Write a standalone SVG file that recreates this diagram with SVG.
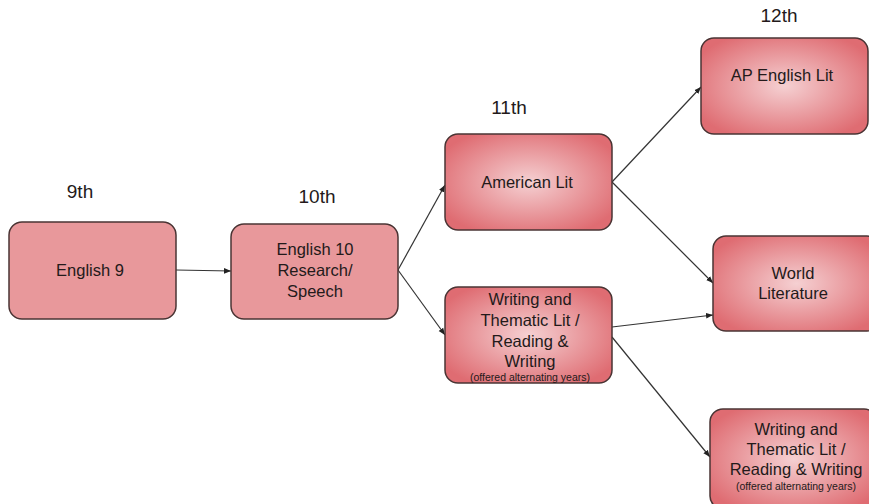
<svg xmlns="http://www.w3.org/2000/svg" width="869" height="504" viewBox="0 0 869 504">
<style>
.flat{fill:#e8989b;stroke:#4a3434;stroke-width:1.5}
.grad{fill:url(#rg);stroke:#4a3434;stroke-width:1.5}
text{font-family:"Liberation Sans",Arial,sans-serif;fill:#231a1a;text-anchor:middle}
.t{font-size:16.5px}
.s{font-size:10.5px}
.lab{font-size:19px}
.c{stroke:#333;stroke-width:1.2;fill:none;marker-end:url(#ah)}
</style>
<defs>
<radialGradient id="rg" cx="50%" cy="50%" r="60%">
<stop offset="0" stop-color="#f5d0d2"/>
<stop offset="1" stop-color="#df6c72"/>
</radialGradient>
<marker id="ah" viewBox="0 0 10 10" refX="10" refY="5" markerWidth="7" markerHeight="7" orient="auto" markerUnits="userSpaceOnUse">
<path d="M0,1 L10,5 L0,9 z" fill="#222"/>
</marker>
</defs>
<rect width="869" height="504" fill="#fff"/>
<g id="labels">
<text class="lab" x="80" y="198">9th</text>
<text class="lab" x="317" y="203">10th</text>
<text class="lab" x="509" y="114">11th</text>
<text class="lab" x="779" y="22">12th</text>
</g>
<g id="connectors">
<line class="c" x1="176" y1="270" x2="231" y2="271"/>
<line class="c" x1="398" y1="270" x2="445" y2="185"/>
<line class="c" x1="398" y1="270" x2="445" y2="335"/>
<line class="c" x1="612" y1="182" x2="701" y2="87"/>
<line class="c" x1="612" y1="182" x2="713" y2="283"/>
<line class="c" x1="612" y1="327" x2="713" y2="315"/>
<line class="c" x1="612" y1="337" x2="710" y2="457"/>
</g>
<g id="english9">
<rect class="flat" x="9" y="222" width="167" height="97" rx="13"/>
<text class="t" x="90" y="276">English 9</text>
</g>
<g id="english10">
<rect class="flat" x="231" y="224" width="167" height="95" rx="13"/>
<text class="t" x="315" y="255">English 10</text>
<text class="t" x="315" y="276">Research/</text>
<text class="t" x="315" y="297">Speech</text>
</g>
<g id="americanlit">
<rect class="grad" x="445" y="134" width="167" height="96" rx="13"/>
<text class="t" x="527" y="188">American Lit</text>
</g>
<g id="writing11">
<rect class="grad" x="445" y="287" width="167" height="96" rx="13"/>
<text class="t" x="530" y="305">Writing and</text>
<text class="t" x="530" y="326">Thematic Lit /</text>
<text class="t" x="530" y="347">Reading &amp;</text>
<text class="t" x="530" y="367">Writing</text>
<text class="s" x="530" y="381">(offered alternating years)</text>
</g>
<g id="aplit">
<rect class="grad" x="701" y="38" width="167" height="96" rx="13"/>
<text class="t" x="782" y="81">AP English Lit</text>
</g>
<g id="worldlit">
<rect class="grad" x="713" y="236" width="167" height="95" rx="13"/>
<text class="t" x="793" y="279">World</text>
<text class="t" x="793" y="299">Literature</text>
</g>
<g id="writing12">
<rect class="grad" x="710" y="409" width="167" height="100" rx="13"/>
<text class="t" x="796" y="435">Writing and</text>
<text class="t" x="796" y="455">Thematic Lit /</text>
<text class="t" x="796" y="475">Reading &amp; Writing</text>
<text class="s" x="796" y="490">(offered alternating years)</text>
</g>
</svg>
